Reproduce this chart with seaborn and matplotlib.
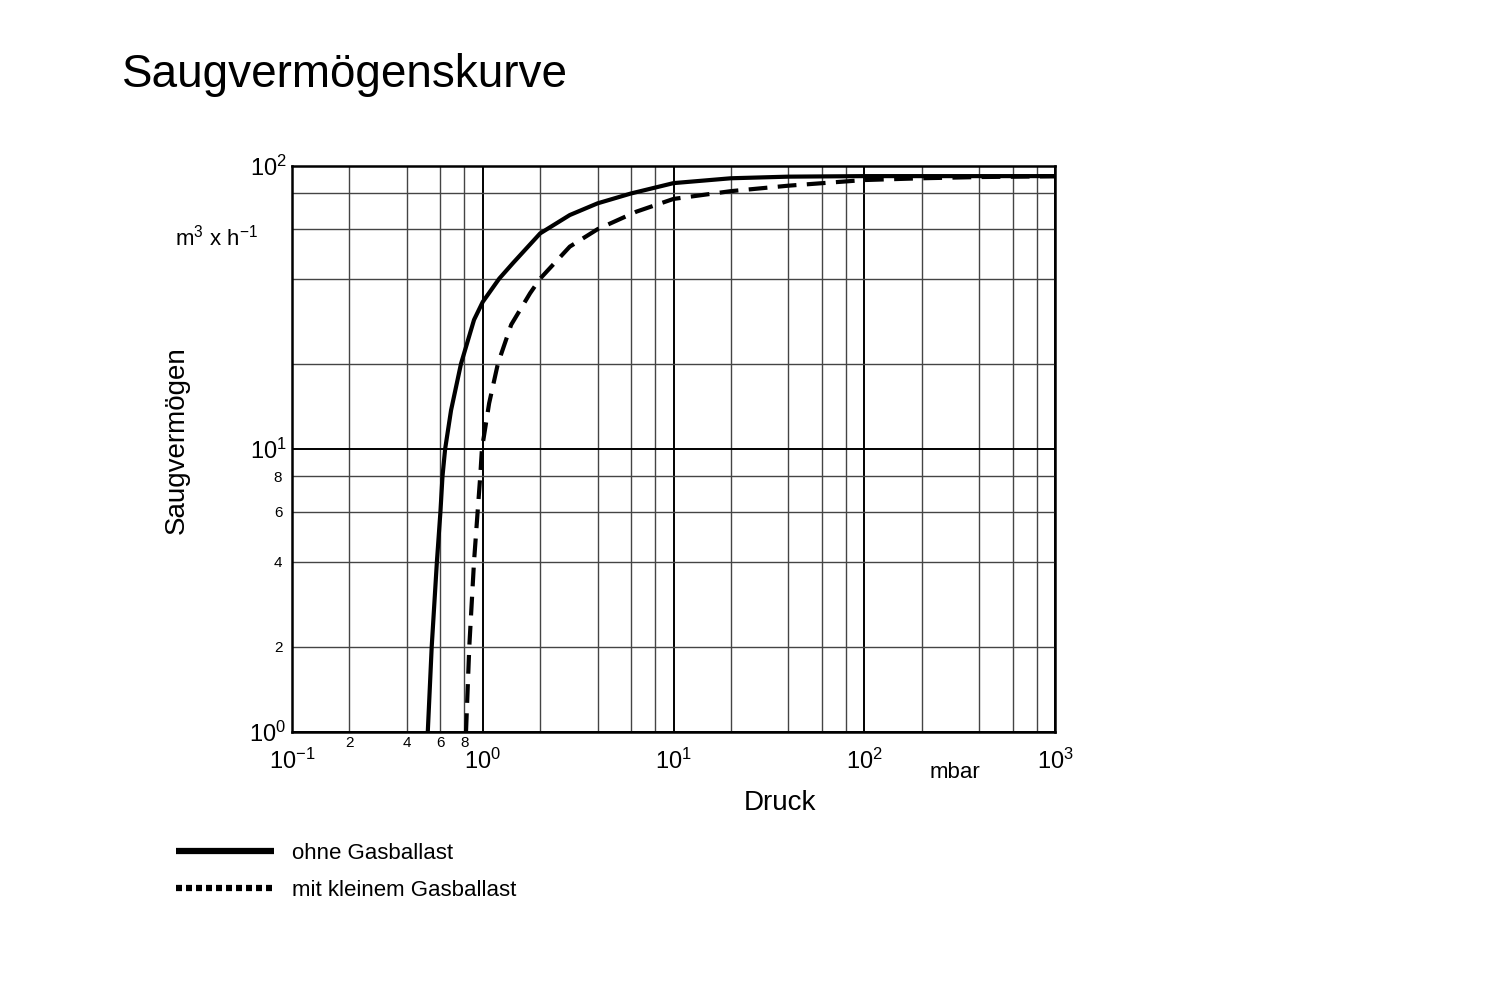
import matplotlib
matplotlib.use("Agg")
import matplotlib.pyplot as plt
from matplotlib.lines import Line2D
import seaborn as sns

# Saugvermögen ohne Gasballast (Druck in mbar, S in m3/h)
druck_ohne = [0.515, 0.54, 0.575, 0.60, 0.615, 0.635, 0.682, 0.769, 0.90, 1.0,
              1.22, 1.445, 2.0, 2.86, 4.0, 6.0, 10, 20, 40, 100, 1000]
saug_ohne = [1.0, 2.0, 4.0, 6.0, 8.0, 10.0, 13.7, 20, 28.6, 33.1,
             40, 45.5, 57.8, 67.1, 73.8, 80, 87, 90.5, 91.7, 92.1, 92.1]

# mit kleinem Gasballast
druck_mit = [0.817, 0.85, 0.90, 0.94, 0.97, 0.99, 1.08, 1.20, 1.41, 1.77, 2.0,
             2.86, 4.0, 6.4, 10, 20, 40, 100, 200, 400, 1000]
saug_mit = [1.0, 2.0, 4.0, 6.0, 8.0, 10.0, 14.5, 20, 27.5, 35.5, 40,
            51.9, 59.8, 69, 76.5, 81.5, 85.2, 89.2, 90.5, 91.4, 92]

x_major = [0.1, 1, 10, 100, 1000]
x_major_labels = [r'$10^{-1}$', r'$10^{0}$', r'$10^{1}$', r'$10^{2}$', r'$10^{3}$']
y_major = [1, 10, 100]
y_major_labels = [r'$10^{0}$', r'$10^{1}$', r'$10^{2}$']
minor_steps = [2, 4, 6, 8]

sns.set_style('white')
plt.rcParams['font.family'] = ['Liberation Sans', 'DejaVu Sans']
plt.rcParams['mathtext.fontset'] = 'custom'
plt.rcParams['mathtext.rm'] = 'Liberation Sans'
plt.rcParams['mathtext.it'] = 'Liberation Sans'
for key in ['text.color', 'axes.labelcolor', 'xtick.color', 'ytick.color']:
    plt.rcParams[key] = 'black'

fig = plt.figure(figsize=(15.04, 10.06), dpi=100)
ax = fig.add_axes([292 / 1504, 1 - 732 / 1006, (1055 - 292) / 1504, (732 - 166) / 1006])

sns.lineplot(x=druck_ohne, y=saug_ohne, ax=ax, color='black', lw=3,
             estimator=None, sort=False, zorder=5)
sns.lineplot(x=druck_mit, y=saug_mit, ax=ax, color='black', lw=3,
             estimator=None, sort=False, zorder=5, linestyle=(0, (4.5, 2.5)))

ax.set_xscale('log')
ax.set_yscale('log')
ax.set_xlim(0.1, 1000)
ax.set_ylim(1, 100)

ax.set_xticks(x_major, x_major_labels, fontsize=17)
x_minor = [d * s for d in x_major[:-1] for s in minor_steps]
x_minor_labels = [str(s) if d == 0.1 else '' for d in x_major[:-1] for s in minor_steps]
ax.set_xticks(x_minor, x_minor_labels, minor=True, fontsize=11)

ax.set_yticks(y_major, y_major_labels, fontsize=17)
y_minor = [d * s for d in y_major[:-1] for s in minor_steps]
y_minor_labels = [str(s) if d == 1 else '' for d in y_major[:-1] for s in minor_steps]
ax.set_yticks(y_minor, y_minor_labels, minor=True, fontsize=11)

ax.tick_params(axis='x', which='major', length=0, pad=12)
ax.tick_params(axis='x', which='minor', length=0, pad=3)
ax.tick_params(axis='y', which='major', length=0, pad=4)
ax.tick_params(axis='y', which='minor', length=0, pad=7)

ax.grid(which='major', color='black', lw=1.4)
ax.grid(which='minor', color='#444444', lw=1.0)
ax.set_axisbelow(True)
for sp in ax.spines.values():
    sp.set_color('black')
    sp.set_linewidth(1.8)

ax.text(-0.045, 56, r'm$^3$ x h$^{-1}$', transform=ax.get_yaxis_transform(),
        ha='right', va='center', fontsize=16)
ax.text(300, -0.072, 'mbar', transform=ax.get_xaxis_transform(),
        ha='center', va='center', fontsize=16)

fig.text(780 / 1504, 1 - 803 / 1006, 'Druck', fontsize=20, ha='center', va='center')
fig.text(177 / 1504, 1 - 440 / 1006, 'Saugvermögen', fontsize=20, rotation=90,
         ha='center', va='center')
fig.text(122 / 1504, 1 - 75 / 1006, 'Saugvermögenskurve', fontsize=33,
         ha='left', va='center')

handles = [Line2D([], [], color='black', lw=4.5, solid_capstyle='butt'),
           Line2D([], [], color='black', lw=4.5, linestyle=(0, (0.96, 0.64)),
                  dash_capstyle='butt')]
fig.legend(handles, ['ohne Gasballast', 'mit kleinem Gasballast'],
           loc='upper left', bbox_to_anchor=(176 / 1504, 1 - 843 / 1006),
           frameon=False, fontsize=16, handlelength=4.4, handletextpad=0.8,
           labelspacing=0.7, borderpad=0, borderaxespad=0)

fig.savefig('out.png', dpi=100)
